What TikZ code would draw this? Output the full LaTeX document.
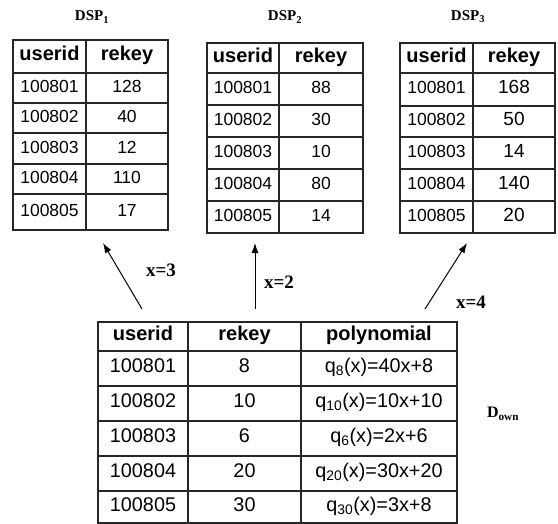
\documentclass[tikz,border=0pt]{standalone}
\usepackage{fontspec}
\setmainfont{Liberation Serif}
\newfontfamily\arialf{Liberation Sans}
\usetikzlibrary{arrows.meta}
\begin{document}
\begin{tikzpicture}[x=1bp,y=-1bp,
  grid/.style={draw=black!85, line width=1.2bp},
  cell/.style={font=\arialf\fontsize{17.5bp}{20bp}\selectfont, inner sep=0pt, text height=0.72em, text depth=0pt},
  bcell/.style={font=\arialf\fontsize{19.8bp}{22bp}\selectfont, inner sep=0pt, text height=0.72em, text depth=0pt},
  hcell/.style={font=\arialf\bfseries\fontsize{20bp}{22bp}\selectfont, inner sep=0pt, text height=0.72em, text depth=0pt},
  lbl/.style={font=\bfseries\fontsize{15bp}{17bp}\selectfont, inner sep=0pt},
  xlbl/.style={font=\bfseries\fontsize{19bp}{21bp}\selectfont, inner sep=0pt},
  arr/.style={line width=1bp, -{Latex[length=10bp,width=7bp]}}]
\useasboundingbox (0,0) rectangle (558,524);

% ---------- DSP1 ----------
\node[lbl] (t1) at (92,17) {DSP\textsubscript{1}};
\draw[grid] (13,40) rectangle (168,230);
\draw[grid] (86,40) -- (86,230);
\foreach \y in {73,103,133,164,194} \draw[grid] (13,\y) -- (168,\y);
\node[hcell] (d1hu) at (49.5,57) {userid};
\node[hcell] (d1hr) at (127,57) {rekey};
\foreach \id/\rk/\yc [count=\i] in {100801/128/89, 100802/40/119, 100803/12/149.5, 100804/110/180, 100805/17/213}{
  \node[cell] (d1u\i) at (49.5,\yc) {\id};
  \node[cell] (d1r\i) at (127,\yc) {\rk};
}

% ---------- DSP2 ----------
\node[lbl] (t2) at (285,17) {DSP\textsubscript{2}};
\draw[grid] (207,43) rectangle (363,233);
\draw[grid] (279,43) -- (279,233);
\foreach \y in {73,105,137,169,201} \draw[grid] (207,\y) -- (363,\y);
\node[hcell] (d2hu) at (243,58.5) {userid};
\node[hcell] (d2hr) at (321,58.5) {rekey};
\foreach \id/\rk/\yc [count=\i] in {100801/88/90, 100802/30/122, 100803/10/154, 100804/80/186, 100805/14/218}{
  \node[cell] (d2u\i) at (243,\yc) {\id};
  \node[cell] (d2r\i) at (321,\yc) {\rk};
}

% ---------- DSP3 ----------
\node[lbl] (t3) at (468,17) {DSP\textsubscript{3}};
\draw[grid] (400,43) rectangle (555,233);
\draw[grid] (473,43) -- (473,233);
\foreach \y in {73,106,137,169,201} \draw[grid] (400,\y) -- (555,\y);
\node[hcell] (d3hu) at (436.5,58.5) {userid};
\node[hcell] (d3hr) at (514,58.5) {rekey};
\foreach \id/\rk/\yc [count=\i] in {100801/168/90, 100802/50/122, 100803/14/154, 100804/140/186, 100805/20/218}{
  \node[cell] (d3u\i) at (436.5,\yc) {\id};
  \node[cell, font=\arialf\fontsize{19bp}{21bp}\selectfont] (d3r\i) at (514,\yc) {\rk};
}

% ---------- D_own ----------
\draw[grid] (98,322) rectangle (457,523);
\draw[grid] (188,322) -- (188,523);
\draw[grid] (301,322) -- (301,523);
\foreach \y in {351,386,421,456,491} \draw[grid] (98,\y) -- (457,\y);
\node[hcell] (dhu) at (143,337) {userid};
\node[hcell] (dhr) at (244.5,337) {rekey};
\node[hcell] (dhp) at (379,337) {polynomial};
\foreach \id/\rk/\po/\yc [count=\i] in {
  100801/8/{q\textsubscript{8}(x)=40x+8}/369,
  100802/10/{q\textsubscript{10}(x)=10x+10}/404,
  100803/6/{q\textsubscript{6}(x)=2x+6}/439,
  100804/20/{q\textsubscript{20}(x)=30x+20}/474,
  100805/30/{q\textsubscript{30}(x)=3x+8}/508}{
  \node[bcell] (du\i) at (143,\yc) {\id};
  \node[bcell] (dr\i) at (244.5,\yc) {\rk};
  \node[bcell] (dp\i) at (379,\yc) {\po};
}
\node[font=\bfseries\fontsize{16bp}{18bp}\selectfont, inner sep=0pt] (down) at (503,414) {D\textsubscript{own}};

% ---------- arrows ----------
\coordinate (s1) at (142,309);
\coordinate (e1) at (103,243);
\coordinate (s2) at (255,309);
\coordinate (e2) at (255,243);
\coordinate (s3) at (425,309);
\coordinate (e3) at (467,243);
\draw[arr] (s1) -- (e1);
\draw[arr] (s2) -- (e2);
\draw[arr] (s3) -- (e3);
\node[xlbl] (x3) at (161,270) {x=3};
\node[xlbl] (x2) at (279,282) {x=2};
\node[xlbl] (x4) at (471,302) {x=4};
\end{tikzpicture}
\end{document}
